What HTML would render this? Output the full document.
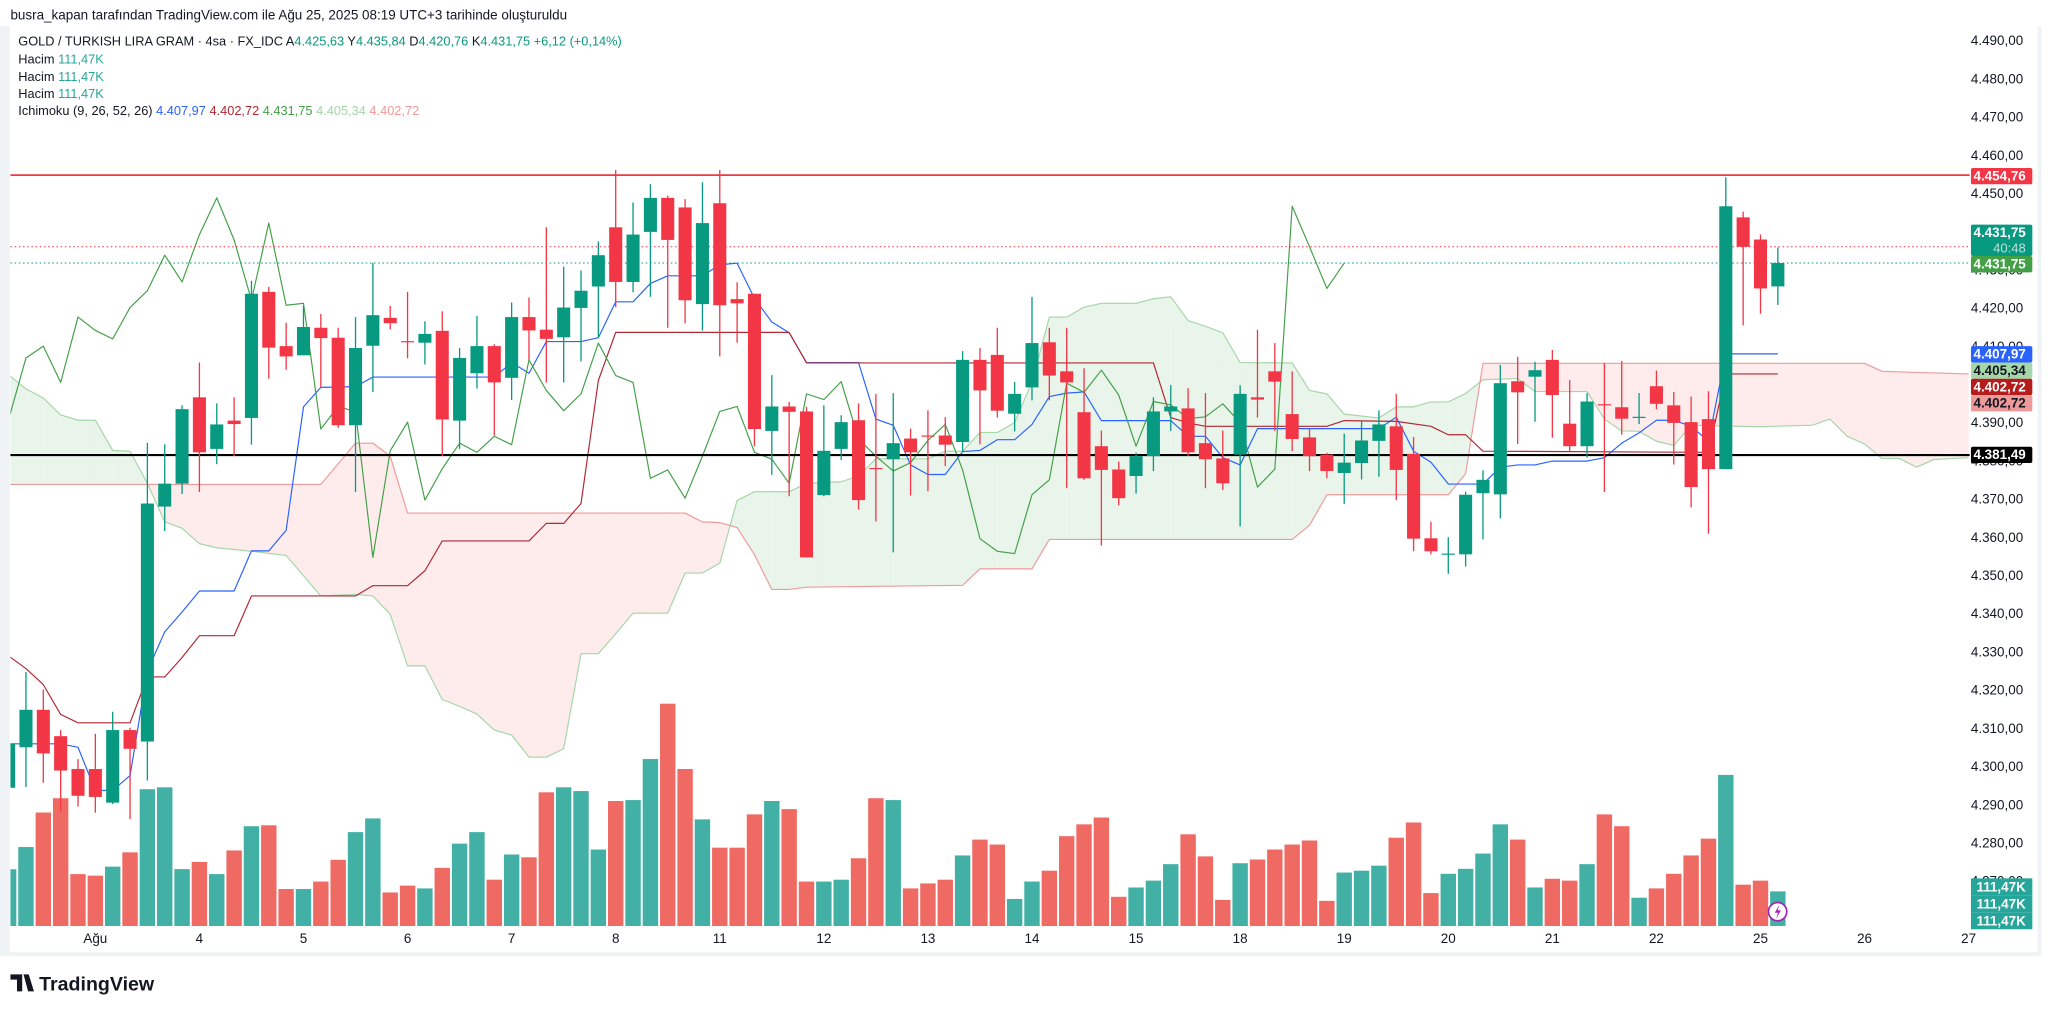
<!DOCTYPE html>
<html><head><meta charset="utf-8"><style>
html,body{margin:0;padding:0;background:#fff;width:2048px;height:1014px;overflow:hidden}
svg{display:block}
text{font-family:"Liberation Sans","DejaVu Sans",sans-serif}
</style></head><body>
<svg id="chart" width="2048" height="1014" viewBox="0 0 1568 776.35" preserveAspectRatio="none" xmlns="http://www.w3.org/2000/svg">
<rect x="0" y="0" width="1568" height="777" fill="#fff"/>
<text x="8" y="15" font-size="10.3" fill="#131722">busra_kapan tarafından TradingView.com ile Ağu 25, 2025 08:19 UTC+3 tarihinde oluşturuldu</text>
<rect x="0" y="20" width="7.5" height="712" fill="#f0f3f5"/>
<rect x="7.5" y="729" width="1553" height="3" fill="#f0f3f5"/>
<rect x="1560" y="20" width="3" height="712" fill="#f0f3f5"/>
<defs><clipPath id="plot"><rect x="8" y="20" width="1500" height="689"/></clipPath></defs>
<g id="cloud" clip-path="url(#plot)"></g>
<g id="vol" clip-path="url(#plot)"></g>
<g id="lines" clip-path="url(#plot)"></g>
<g id="hlines"></g>
<g id="candles" clip-path="url(#plot)"></g>
<g id="yaxis"></g>
<g id="xaxis"></g>
<g id="tags"></g>
<g font-size="9.8">
<text x="14" y="35" fill="#131722">GOLD / TURKISH LIRA GRAM · 4sa · FX_IDC  A<tspan fill="#089981">4.425,63</tspan>  Y<tspan fill="#089981">4.435,84</tspan>  D<tspan fill="#089981">4.420,76</tspan>  K<tspan fill="#089981">4.431,75</tspan>  <tspan fill="#089981">+6,12 (+0,14%)</tspan></text>
<text x="14" y="48.5" fill="#131722">Hacim  <tspan fill="#26a69a">111,47K</tspan></text>
<text x="14" y="62" fill="#131722">Hacim  <tspan fill="#26a69a">111,47K</tspan></text>
<text x="14" y="75" fill="#131722">Hacim  <tspan fill="#26a69a">111,47K</tspan></text>
<text x="14" y="88" fill="#131722">Ichimoku (9, 26, 52, 26)  <tspan fill="#2962ff">4.407,97</tspan>  <tspan fill="#b22833">4.402,72</tspan>  <tspan fill="#43a047">4.431,75</tspan>  <tspan fill="#a5d6a7">4.405,34</tspan>  <tspan fill="#ef9a9a">4.402,72</tspan></text>
</g>
<g><circle cx="1361" cy="698" r="7" fill="#fff" stroke="#9c27b0" stroke-width="1.3"/><path d="M1362.5 692.5 L1358.8 698.8 L1361.3 698.8 L1359.8 703.5 L1363.5 697 L1361 697 Z" fill="#9c27b0"/></g>
<g><path d="M8 746 H17 V759 H13 V750 H8 Z M18 746 H22 L26 759 H21.5 Z" fill="#131722"/><text x="30" y="758.5" font-size="15" font-weight="bold" fill="#131722">TradingView</text></g>
</svg>
<script>
const opens=[4294.4,4305.0,4314.8,4307.9,4299.3,4299.3,4290.5,4309.5,4306.5,4368.0,4374.0,4396.6,4383.1,4390.5,4391.2,4424.2,4410.0,4407.6,4414.8,4412.2,4389.3,4410.1,4417.4,4411.3,4410.9,4414.0,4390.5,4402.9,4410.0,4401.7,4417.6,4414.3,4412.3,4420.0,4425.6,4441.1,4426.8,4439.9,4448.8,4446.3,4421.0,4447.4,4422.3,4423.7,4387.8,4394.2,4392.9,4371.0,4383.1,4390.6,4378.1,4380.4,4385.8,4386.6,4386.6,4384.9,4406.4,4407.7,4392.3,4399.2,4411.0,4403.4,4392.7,4383.8,4377.7,4376.0,4381.2,4392.9,4393.7,4384.6,4380.6,4381.6,4396.6,4403.4,4392.2,4386.1,4381.6,4376.8,4379.4,4385.2,4389.0,4381.8,4359.7,4355.4,4355.5,4371.5,4371.2,4400.8,4402.0,4406.4,4389.7,4383.8,4394.8,4394.0,4391.2,4399.5,4394.5,4390.1,4390.9,4377.8,4443.7,4437.9,4425.63];
const closes=[4305.9,4314.8,4303.4,4298.9,4292.3,4292.0,4309.5,4304.6,4368.8,4374.0,4393.5,4382.2,4389.5,4389.6,4423.7,4409.6,4407.3,4415.0,4412.1,4389.3,4409.5,4418.1,4416.0,4411.0,4413.2,4390.8,4406.9,4410.0,4400.5,4417.6,4414.1,4411.9,4420.1,4424.5,4433.8,4426.8,4439.2,4448.8,4437.8,4422.0,4442.2,4420.7,4421.2,4388.3,4394.2,4392.8,4354.7,4382.6,4390.1,4369.7,4377.9,4384.6,4382.2,4386.4,4384.2,4406.4,4398.4,4393.1,4397.5,4410.8,4402.3,4400.5,4375.4,4377.6,4370.2,4381.2,4392.9,4394.2,4382.2,4380.4,4374.1,4397.5,4396.0,4400.7,4385.7,4381.2,4377.3,4379.5,4385.3,4389.5,4377.6,4359.6,4356.3,4355.7,4371.1,4375.0,4400.3,4397.9,4403.7,4397.2,4383.8,4395.5,4394.6,4391.0,4391.5,4394.9,4389.9,4373.1,4377.8,4446.6,4436.0,4425.1,4431.75];
const highs=[4308,4324.7,4320.1,4309.5,4301.9,4308.5,4314.3,4310.1,4384.7,4384.3,4394.5,4405.7,4395.0,4396.6,4427.1,4425.5,4416.1,4420.6,4418.4,4414.8,4417.6,4431.8,4420.5,4424.2,4416.5,4419.1,4409.5,4417.9,4410.5,4421.4,4422.7,4441.1,4430.8,4429.8,4437.4,4456.1,4447.6,4452.4,4449.4,4448.5,4452.9,4456.1,4426.7,4423.7,4402.4,4395.4,4394.1,4394.5,4391.9,4395.0,4397.5,4397.7,4388.4,4393.2,4391.4,4408.7,4409.5,4414.8,4400.6,4422.9,4414.8,4414.8,4404.2,4387.9,4379.8,4382.1,4396.6,4399.8,4399.0,4397.7,4387.9,4399.8,4414.3,4410.8,4403.4,4388.4,4382.1,4387.1,4390.6,4393.2,4397.5,4386.2,4364.0,4360.0,4371.9,4377.5,4405.1,4407.2,4405.9,4409.0,4401.1,4397.7,4405.6,4406.1,4397.7,4403.6,4398.0,4396.8,4398.2,4454.2,4445.2,4439.2,4435.84];
const lows=[4293,4294.6,4295.7,4288.2,4289.5,4287.9,4290.1,4286.2,4296.3,4361.6,4371.3,4371.8,4379.1,4381.2,4384.2,4401.5,4403.8,4407.6,4399.3,4388.6,4371.8,4398.0,4414.4,4406.8,4405.2,4381.2,4383.1,4398.9,4386.6,4395.9,4406.4,4400.5,4400.5,4406.0,4412.2,4420.2,4424.1,4422.9,4414.8,4416.0,4414.1,4407.3,4410.9,4383.8,4376.3,4370.7,4354.7,4370.7,4380.2,4367.2,4364.1,4356.0,4370.9,4372.0,4378.6,4382.5,4384.3,4391.3,4387.7,4395.8,4395.8,4372.8,4375.0,4357.8,4368.3,4371.4,4377.3,4387.8,4381.2,4372.8,4372.3,4362.8,4391.3,4387.8,4382.5,4377.3,4375.4,4368.7,4375.1,4375.8,4369.7,4356.3,4355.5,4350.4,4352.3,4359.4,4364.9,4384.4,4390.2,4386.0,4382.5,4380.8,4371.8,4386.8,4389.6,4393.5,4379.0,4367.8,4360.9,4377.8,4415.4,4418.5,4420.76];
const volumes=[182.6,254,365,411,167,162,191,237,440,446,183,206,167,243,321,324,119,119,143,213,302,346,108,130,121,187,265,302,149,230,221,430,446,434,246,402,405,537,715,505,343,252,252,359,402,376,143,143,149,218,411,405,121,137,149,227,278,262,87,143,178,289,327,349,94,124,146,199,295,224,84,202,214,246,262,275,81,172,178,194,284,333,106,168,184,233,327,278,124,152,146,199,359,321,91,121,168,227,281,486,133,146,111.47];
const tenkanIdx=[0,3,4,5,6,7,8,9,10,11,13,14,15,16,17,18,20,21,28,29,30,31,33,34,35,36,37,38,40,41,42,43,44,45,46,49,50,51,52,53,54,55,56,57,58,59,60,61,62,63,67,68,69,70,71,72,79,80,81,82,83,85,86,87,88,89,91,92,93,94,95,96,97,98,99,102];
const tenkanVal=[4305.9,4305.9,4305.0,4293.7,4293.7,4297.6,4325,4335.2,4340.4,4345.9,4345.9,4356.4,4356.4,4361.8,4394.1,4399.2,4399.4,4401.9,4401.9,4405.7,4402.9,4411.2,4411.2,4412.2,4421.6,4421.6,4426.4,4428.4,4428.4,4431.3,4431.7,4422.5,4416.3,4413.5,4405.7,4405.7,4390.9,4389.3,4378.9,4376.4,4376.4,4382.4,4382.7,4385.5,4385.5,4389.5,4396.8,4397.7,4398.0,4390.5,4390.5,4386.4,4386.4,4380.8,4378.9,4388.4,4388.4,4391.4,4382.5,4379.6,4373.9,4373.9,4378.3,4378.9,4378.9,4379.9,4379.9,4380.8,4384.6,4387.3,4390.6,4390.6,4389.0,4385.1,4407.97,4407.97];
const kijunIdx=[0,1,2,3,4,7,8,9,10,11,13,14,20,21,23,24,25,30,31,32,33,34,35,45,46,66,67,68,69,76,77,80,82,83,84,85,98,99,102];
const kijunVal=[4328.9,4325.6,4321.4,4313.6,4311.4,4311.4,4323.4,4323.4,4328.5,4334.2,4334.2,4344.6,4344.6,4347.3,4347.3,4351.2,4359.0,4359.0,4363.6,4363.6,4368.8,4401.0,4413.6,4413.6,4405.6,4405.6,4391.3,4389.9,4389.0,4389.0,4390.5,4390.3,4389.0,4386.8,4386.8,4382.5,4382.2,4402.72,4402.72];
const spanAIdx=[0,1,2,3,4,5,6,7,8,9,10,11,12,14,16,18,20,21,22,23,24,25,26,27,28,29,30,31,32,33,34,35,36,38,39,40,41,42,43,45,46,48,49,50,53,54,55,56,57,58,59,60,61,62,63,65,66,67,68,69,70,71,74,75,76,77,79,80,81,82,83,84,85,87,88,91,92,93,94,95,96,97,101,104,105,106,107,108,109,110,111,113];
const spanAVal=[4402.5,4398.8,4396.4,4392.0,4390.6,4390.6,4382.7,4382.5,4374.1,4364.0,4362.3,4358.3,4357.2,4356.3,4355.2,4344.6,4345.0,4344.6,4339.8,4326.3,4326.3,4317.5,4315.7,4313.7,4309.5,4308.2,4302.4,4302.4,4304.6,4329.5,4329.5,4334.7,4340.1,4340.1,4350.6,4350.6,4353.2,4369.6,4371.9,4371.9,4374.1,4374.5,4376.0,4380.5,4380.5,4382.5,4382.5,4387.4,4387.4,4390.0,4400.6,4417.6,4417.6,4420.2,4421.2,4421.2,4422.4,4422.9,4416.7,4415.2,4413.5,4405.7,4405.6,4398.4,4397.5,4392.2,4391.2,4394.1,4394.1,4395.4,4395.4,4397.6,4401.2,4401.5,4398.1,4398.1,4390.9,4387.8,4387.7,4385.1,4384.0,4389.3,4388.9,4389.3,4390.9,4386.4,4384.4,4380.6,4380.6,4378.3,4380.3,4380.8];
const spanBIdx=[0,18,20,21,22,23,39,40,41,42,43,44,45,46,55,56,59,60,74,75,76,83,84,85,107,108,113];
const spanBVal=[4373.8,4373.8,4384.6,4384.6,4381.2,4366.3,4366.3,4364.0,4363.8,4362.5,4355.4,4346.3,4346.3,4346.9,4347.4,4351.7,4351.7,4359.4,4359.4,4363.1,4371.1,4371.1,4376.6,4405.5,4405.5,4403.4,4402.72];
const priceTicks=[4490,4480,4470,4460,4450,4440,4430,4420,4410,4400,4390,4380,4370,4360,4350,4340,4330,4320,4310,4300,4290,4280,4270];
const dateLabels=["Ağu","4","5","6","7","8","11","12","13","14","15","18","19","20","21","22","25","26","27"];
const dateIdx=[5,11,17,23,29,35,41,47,53,59,65,71,77,83,89,95,101,107,113];
const chikouShift=25;
const resistance=4454.76, support=4381.49, prevClose=4436.0;

const NS="http://www.w3.org/2000/svg";
const xOf=i=>6.6+i*13.28;
const yOf=p=>148+(4450-p)*2.925;
const yVol=v=>709-v/4.2;
const fmt=v=>{const s=v.toFixed(2).split('.');return s[0].replace(/\B(?=(\d{3})+(?!\d))/g,'.')+','+s[1];};
function mk(tag,attrs,parent){const e=document.createElementNS(NS,tag);for(const k in attrs)e.setAttribute(k,attrs[k]);parent.appendChild(e);return e;}
function interp(idx,val,i){if(i<idx[0]||i>idx[idx.length-1])return null;for(let k=0;k<idx.length-1;k++){if(i>=idx[k]&&i<=idx[k+1]){const t=(i-idx[k])/(idx[k+1]-idx[k]||1);return val[k]+(val[k+1]-val[k])*t;}}return val[val.length-1];}

const cloudG=document.getElementById('cloud');
for(let i=0;i<113;i++){
  const a0=interp(spanAIdx,spanAVal,i),a1=interp(spanAIdx,spanAVal,i+1),b0=interp(spanBIdx,spanBVal,i),b1=interp(spanBIdx,spanBVal,i+1);
  const d0=a0-b0,d1=a1-b1;
  if(d0*d1<0){
    const t=d0/(d0-d1);const xm=xOf(i+t),ym=yOf(a0+(a1-a0)*t);
    const p1=mk('polygon',{points:`${xOf(i)},${yOf(a0)} ${xm},${ym} ${xOf(i)},${yOf(b0)}`,fill:d0>0?'#e9f4ea':'#fdeceb'},cloudG);
    
    
    const p2=mk('polygon',{points:`${xm},${ym} ${xOf(i+1)},${yOf(a1)} ${xOf(i+1)},${yOf(b1)}`,fill:d1>0?'#e9f4ea':'#fdeceb'},cloudG);
    
    
  } else {
    const p=mk('polygon',{points:`${xOf(i)},${yOf(a0)} ${xOf(i+1)},${yOf(a1)} ${xOf(i+1)},${yOf(b1)} ${xOf(i)},${yOf(b0)}`,fill:(d0+d1)>=0?'#e9f4ea':'#fdeceb'},cloudG);
    
    
  }
}
function poly(idx,val,color,w,name,parent){
  const pts=idx.map((i,k)=>xOf(i).toFixed(2)+','+yOf(val[k]).toFixed(2)).join(' ');
  const e=mk('polyline',{points:pts,fill:'none',stroke:color,'stroke-width':w,'stroke-linejoin':'round'},parent);
  
  
}
poly(spanAIdx,spanAVal,'#a5d6a7',0.9,'senkou-span-a',cloudG);
poly(spanBIdx,spanBVal,'#ef9a9a',0.9,'senkou-span-b',cloudG);

const volG=document.getElementById('vol');
volumes.forEach((v,i)=>{
  const up=closes[i]>=opens[i];
  const r=mk('rect',{x:xOf(i)-5.9,y:yVol(v),width:11.8,height:709-yVol(v),fill:up?'#42b0a5':'#f06a64'},volG);
  
  
});

const linesG=document.getElementById('lines');
poly(tenkanIdx,tenkanVal,'#2962ff',0.9,'tenkan-sen',linesG);
poly(kijunIdx,kijunVal,'#b22833',0.9,'kijun-sen',linesG);
const chIdx=[],chVal=[];
for(let i=0;i+chikouShift<closes.length;i++){chIdx.push(i);chVal.push(closes[i+chikouShift]);}
poly(chIdx,chVal,'#43a047',0.9,'chikou-span',linesG);

const hl=document.getElementById('hlines');
let e;
e=mk('line',{x1:8,x2:1508,y1:yOf(prevClose),y2:yOf(prevClose),stroke:'#f23645','stroke-width':0.8,'stroke-dasharray':'1.2 2'},hl);


e=mk('line',{x1:8,x2:1508,y1:yOf(closes[closes.length-1]),y2:yOf(closes[closes.length-1]),stroke:'#089981','stroke-width':0.8,'stroke-dasharray':'1.2 2'},hl);


e=mk('line',{x1:8,x2:1508,y1:yOf(resistance),y2:yOf(resistance),stroke:'#f23645','stroke-width':1.3},hl);


e=mk('line',{x1:8,x2:1508,y1:yOf(support),y2:yOf(support),stroke:'#000','stroke-width':1.6},hl);



const cG=document.getElementById('candles');
opens.forEach((o,i)=>{
  const c=closes[i],up=c>=o,col=up?'#089981':'#f23645',x=xOf(i);
  const g=mk('g',{},cG);
  
  
  mk('line',{x1:x,x2:x,y1:yOf(highs[i]),y2:yOf(lows[i]),stroke:col,'stroke-width':1},g);
  const top=yOf(Math.max(o,c)),bot=yOf(Math.min(o,c));
  mk('rect',{x:x-5,y:top,width:10,height:Math.max(bot-top,0.9),fill:col},g);
});

const ya=document.getElementById('yaxis');
priceTicks.forEach(p=>{
  const t=mk('text',{x:1549,y:yOf(p)+3.6,'font-size':'10.3','text-anchor':'end',fill:'#131722'},ya);
  t.textContent=fmt(p);
  
  
});
const xa=document.getElementById('xaxis');
dateLabels.forEach((d,k)=>{
  const t=mk('text',{x:xOf(dateIdx[k]),y:722,'font-size':'10.3','text-anchor':'middle',fill:'#131722'},xa);
  t.textContent=d;
  
  
});

const tg=document.getElementById('tags');
function tag(top,label,bg,fg,name,h,sub){
  const hh=h||12.5;
  const g=mk('g',{},tg);
  
  
  mk('rect',{x:1509,y:top,width:47,height:hh,rx:1.5,fill:bg},g);
  const t=mk('text',{x:1551,y:top+9.6,'font-size':'10.3','text-anchor':'end',fill:fg,'font-weight':'bold'},g);
  t.textContent=label;
  if(sub){const s=mk('text',{x:1551,y:top+21.2,'font-size':'10','text-anchor':'end',fill:'#b9e3d9'},g);s.textContent=sub;}
}
tag(128.6,fmt(resistance),'#f23645','#fff','tag-resistance');
tag(172,fmt(closes[closes.length-1]),'#089981','#fff','tag-last-price',24,'40:48');
tag(196,fmt(closes[closes.length-1]),'#43a047','#fff','tag-chikou');
tag(265,fmt(tenkanVal[tenkanVal.length-1]),'#2962ff','#fff','tag-tenkan');
tag(277.5,'4.405,34','#a5d6a7','#131722','tag-span-a');
tag(290,fmt(kijunVal[kijunVal.length-1]),'#b71c1c','#fff','tag-kijun');
tag(302.5,fmt(kijunVal[kijunVal.length-1]),'#ef9a9a','#131722','tag-span-b');
tag(342,fmt(support),'#000','#fff','tag-support');
[672.5,685.5,698.5].forEach(top=>{
  const g=mk('g',{},tg);
  
  
  mk('rect',{x:1509,y:top,width:47,height:13,fill:'#26a69a'},g);
  const t=mk('text',{x:1551,y:top+10,'font-size':'10.3','text-anchor':'end',fill:'#fff','font-weight':'bold'},g);
  t.textContent=(volumes[volumes.length-1].toFixed(2).replace('.',','))+'K';
});
</script>
</body></html>
